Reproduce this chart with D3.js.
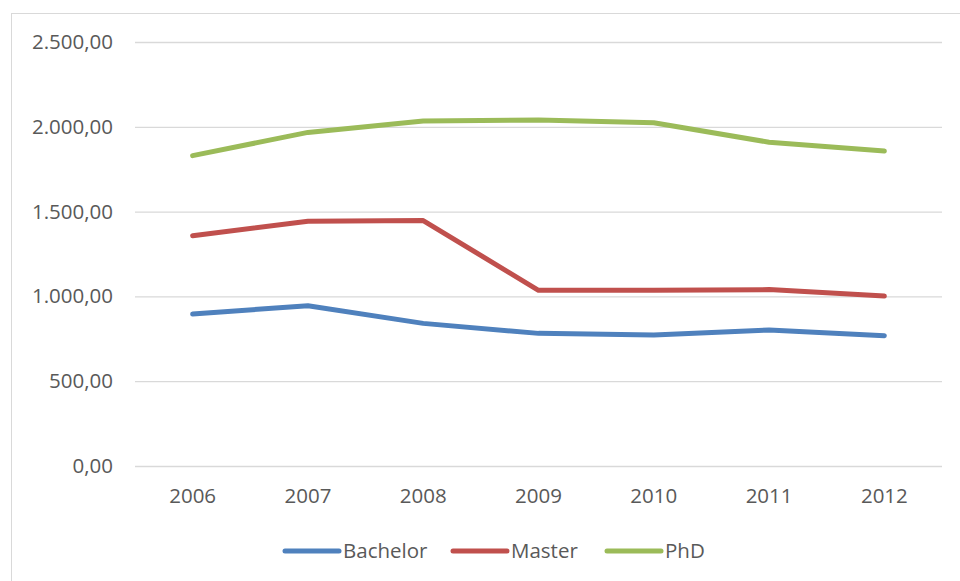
<!DOCTYPE html>
<html>
<head>
<meta charset="utf-8">
<script src="https://cdn.jsdelivr.net/npm/d3@7"></script>
<style>
  body { margin: 0; background: #fff; }
  text { font-family: "Open Sans", "Noto Sans", sans-serif; fill: #595959; }
</style>
</head>
<body>
<svg id="chart" width="960" height="581"></svg>
<script>
// data
const years = ["2006", "2007", "2008", "2009", "2010", "2011", "2012"];
const bachelor = [896, 945, 841, 782, 772, 802, 768];
const master = [1358, 1443, 1447, 1036, 1036, 1040, 1002];
const phd = [1830, 1967, 2034, 2040, 2024, 1909, 1857];
const seriesNames = ["Bachelor", "Master", "PhD"];
const yTicks = [0, 500, 1000, 1500, 2000, 2500];

const colors = d3.scaleOrdinal()
    .domain(seriesNames)
    .range(["#4f81bd", "#c0504d", "#9bbb59"]);

const series = [
    { name: "Bachelor", values: bachelor },
    { name: "Master", values: master },
    { name: "PhD", values: phd }
];

const svg = d3.select("#chart");

// outer chart border (cropped at right and bottom)
svg.append("rect")
    .attr("x", 11.5).attr("y", 13.5)
    .attr("width", 1000).attr("height", 1000)
    .attr("fill", "none")
    .attr("stroke", "#d9d9d9");

let margin = { top: 42, left: 135, right: 942, bottom: 466 };

let xScale = d3.scaleBand()
    .domain(years)
    .range([margin.left, margin.right]);

let yScale = d3.scaleLinear()
    .domain([0, 2500])
    .range([margin.bottom, margin.top]);

const locale = d3.formatLocale({ decimal: ",", thousands: ".", grouping: [3], currency: ["", ""] });
const fmt = locale.format(",.2f");

// gridlines + y labels
let yAxis = svg.append("g")
    .attr("transform", "translate(" + margin.left + ",0)")
    .call(d3.axisLeft(yScale).tickValues(yTicks).tickFormat(fmt)
        .tickSize(-(margin.right - margin.left)).tickPadding(22));
yAxis.select(".domain").remove();
yAxis.selectAll("line").attr("stroke", "#d9d9d9").attr("stroke-width", 1.3);
yAxis.selectAll("text")
    .attr("font-size", 20.5)
    .attr("font-family", "Open Sans")
    .attr("fill", "#595959");

// x labels
let xAxis = svg.append("g")
    .attr("transform", "translate(0," + margin.bottom + ")")
    .call(d3.axisBottom(xScale).tickSize(0).tickPadding(22));
xAxis.select(".domain").remove();
xAxis.selectAll("text")
    .attr("font-size", 20.5)
    .attr("font-family", "Open Sans")
    .attr("fill", "#595959");

// lines
let line = d3.line()
    .x((d, i) => xScale(years[i]) + xScale.bandwidth() / 2)
    .y(d => yScale(d));

svg.selectAll(".series")
    .data(series)
    .join("path")
    .attr("class", "series")
    .attr("d", d => line(d.values))
    .attr("fill", "none")
    .attr("stroke", d => colors(d.name))
    .attr("stroke-width", 5)
    .attr("stroke-linecap", "round")
    .attr("stroke-linejoin", "round");

// legend
const legendX = [285, 453, 607];
let legend = svg.append("g");
let items = legend.selectAll("g")
    .data(seriesNames)
    .join("g")
    .attr("transform", (d, i) => "translate(" + legendX[i] + ",551)");
items.append("line")
    .attr("x1", 0).attr("x2", 54)
    .attr("stroke", d => colors(d))
    .attr("stroke-width", 5)
    .attr("stroke-linecap", "round");
items.append("text")
    .attr("x", 58)
    .attr("dy", "0.35em")
    .attr("font-size", 20.5)
    .text(d => d);
</script>
</body>
</html>
